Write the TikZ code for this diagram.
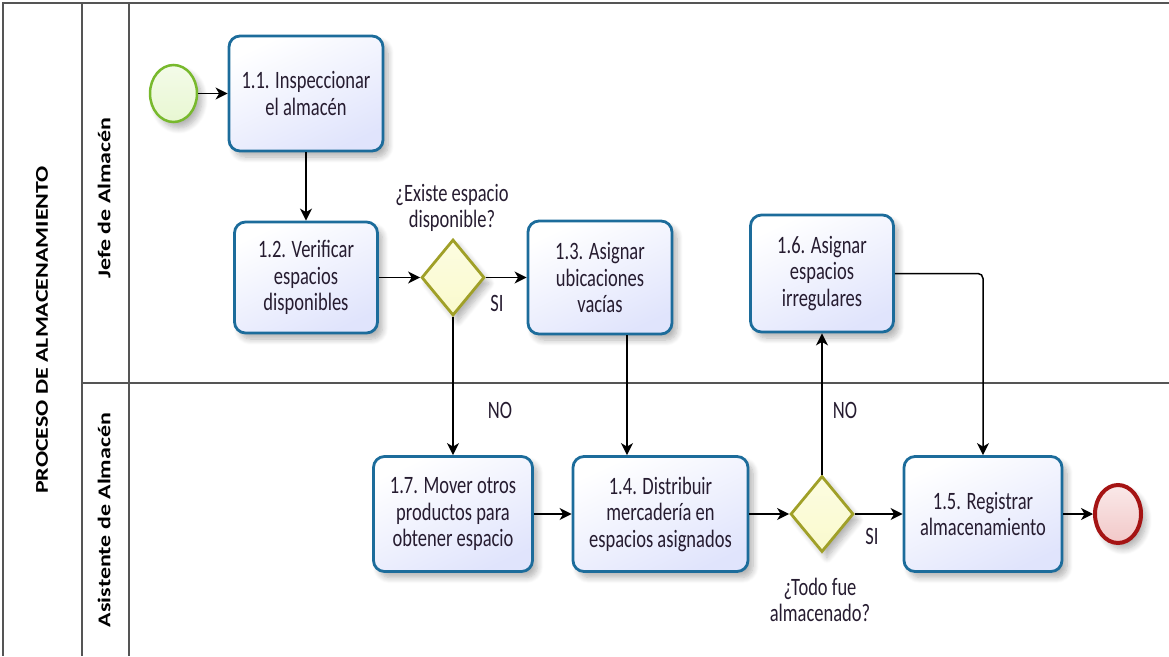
\documentclass[tikz,border=0pt]{standalone}
\usepackage{fontspec}
\setmainfont{Carlito}
\newfontfamily\taskfont[FakeStretch=0.74]{Carlito}
\newfontfamily\lanefont[FakeStretch=1.33]{Carlito}
\usetikzlibrary{shapes.geometric,arrows.meta,shadows.blur}

\definecolor{taskline}{RGB}{28,108,155}
\definecolor{taskfill}{RGB}{224,228,252}
\definecolor{gateline}{RGB}{160,160,40}
\definecolor{gatefill}{RGB}{250,250,205}
\definecolor{startline}{RGB}{120,185,45}
\definecolor{startfill}{RGB}{232,247,210}
\definecolor{endline}{RGB}{165,20,20}
\definecolor{endfill}{RGB}{242,200,200}
\definecolor{poolline}{RGB}{85,85,85}
\definecolor{ink}{RGB}{38,28,48}

\tikzset{
  softshadow/.style={blur shadow={shadow xshift=5pt, shadow yshift=-6pt,
      shadow blur steps=8, shadow blur radius=6pt, shadow opacity=30}},
  task/.style={rectangle, rounded corners=11pt, draw=taskline, line width=2.8pt,
      top color=white, bottom color=taskfill, shading angle=25, softshadow,
      font=\taskfont\fontsize{25}{26.5}\selectfont, text=ink, align=center,
      inner sep=0pt},
  gateway/.style={diamond, draw=gateline, line width=2.8pt, inner sep=0pt,
      top color=white!40!gatefill, bottom color=gatefill, softshadow,
      minimum width=63pt, minimum height=76pt},
  startev/.style={ellipse, draw=startline, line width=2.5pt, inner sep=0pt,
      top color=white!50!startfill, bottom color=startfill, softshadow,
      minimum width=47pt, minimum height=57pt},
  endev/.style={ellipse, draw=endline, line width=4pt, inner sep=0pt,
      top color=white!60!endfill, bottom color=endfill, softshadow,
      minimum width=46pt, minimum height=58pt},
  lbl/.style={font=\taskfont\fontsize{25}{25.5}\selectfont, text=ink,
      align=center, inner sep=0pt},
  lanelbl/.style={font=\lanefont\bfseries\fontsize{18}{20}\selectfont,
      text=black, inner sep=0pt, rotate=90},
  flow/.style={draw=black, line width=1.5pt,
      -{Stealth[length=12pt,width=12pt,inset=3.5pt]}},
  pool/.style={draw=poolline, line width=1.5pt}
}

\begin{document}
\begin{tikzpicture}[x=1pt,y=-1pt]
\useasboundingbox (0,0) rectangle (1169,656);

% pool and lanes
\draw[pool, line width=2pt] (1169,3) -- (3,3) -- (3,656);
\draw[pool] (82,3) -- (82,656);
\draw[pool] (129,3) -- (129,656);
\draw[pool] (82,383) -- (1169,383);

\node[lanelbl] (poolname) at (42,330) {PROCESO DE ALMACENAMIENTO};
\node[lanelbl] (lanejefe) at (104,198) {Jefe de Almacén};
\node[lanelbl] (laneasis) at (104,520) {Asistente de Almacén};

% events
\node[startev] (start) at (173.5,93.5) {};
\node[endev] (end) at (1118,514) {};

% tasks
\node[task, minimum width=154pt, minimum height=115pt] (t11) at (306,93.5)
  {1.1. Inspeccionar\\el almacén};
\node[task, minimum width=143pt, minimum height=111pt] (t12) at (306,277.5)
  {1.2. Verificar\\espacios\\disponibles};
\node[task, minimum width=144pt, minimum height=113pt] (t13) at (600,277.5)
  {1.3. Asignar\\ubicaciones\\vacías};
\node[task, minimum width=143pt, minimum height=117pt] (t16) at (822,273.5)
  {1.6. Asignar\\espacios\\irregulares};
\node[task, minimum width=159pt, minimum height=115pt] (t17) at (453,514)
  {1.7. Mover otros\\productos para\\obtener espacio};
\node[task, minimum width=175pt, minimum height=115pt] (t14) at (660.5,514)
  {1.4. Distribuir\\mercadería en\\espacios asignados};
\node[task, minimum width=158pt, minimum height=115pt] (t15) at (983,514)
  {1.5. Registrar\\almacenamiento};

% gateways
\node[gateway] (g1) at (453,277.5) {};
\node[gateway] (g2) at (822,514) {};

% labels
\node[lbl] (q1) at (452,208) {¿Existe espacio\\disponible?};
\node[lbl] (q2) at (820,600) {¿Todo fue\\almacenado?};
\node[lbl] (si1) at (497,303) {SI};
\node[lbl] (no1) at (500,410) {NO};
\node[lbl] (no2) at (845,410) {NO};
\node[lbl] (si2) at (872,536) {SI};

% sequence flows
\draw[flow] (start.east) -- (start.east -| t11.west);
\draw[flow] (t11) -- (t12);
\draw[flow] (t12) -- (g1);
\draw[flow] (g1) -- (t13);
\draw[flow] (g1) -- (t17);
\draw[flow] ([xshift=27pt]t13.south) -- ([xshift=27pt]t13.south |- t14.north);
\draw[flow] (t17) -- (t14);
\draw[flow] (t14) -- (g2);
\draw[flow] (g2) -- (t16);
\draw[flow] (g2) -- (t15);
\draw[flow, rounded corners=5pt] (t16.east) -| (t15.north);
\draw[flow] (t15) -- (end);
\end{tikzpicture}
\end{document}
